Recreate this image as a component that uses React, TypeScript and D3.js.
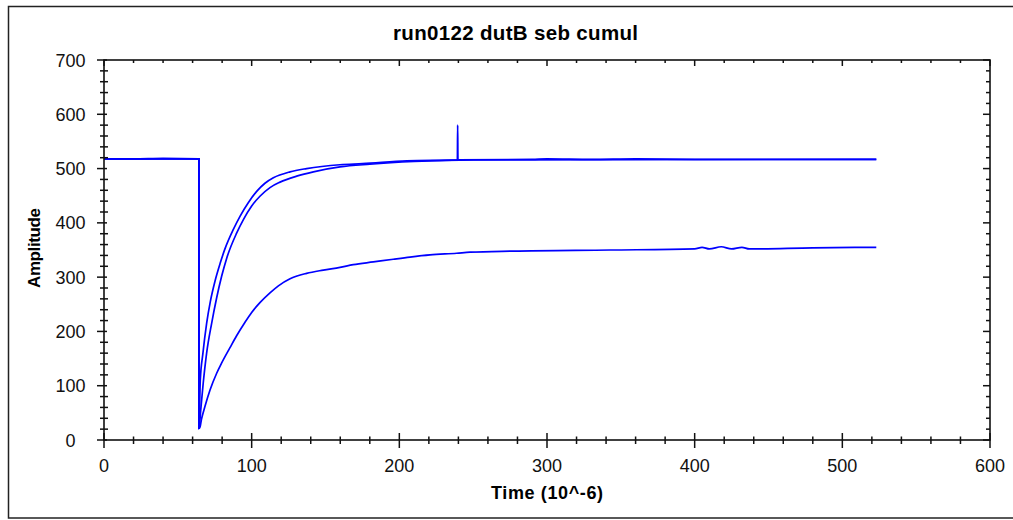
import * as d3 from 'd3';

// readings: [time (10^-6), amplitude]
const fastA: [number, number][] = [
  [0, 518], [20, 518], [40, 519], [64.3, 518], [64.3, 22],
  [65.2, 110], [67, 160], [69.5, 215], [72, 255], [75.2, 293],
  [78.6, 325], [81.9, 352], [87.6, 388], [92.1, 412], [97.7, 437],
  [103.4, 458], [109, 473], [114.7, 483], [126, 494], [137.2, 500],
  [159.8, 507], [175, 509], [205, 514], [239.3, 516], [239.5, 580], [239.7, 516],
  [290, 517], [300, 518], [330, 517], [360, 518], [400, 517], [523, 517],
];

const fastB: [number, number][] = [
  [0, 518], [64.3, 518], [64.3, 21],
  [65.5, 55], [67.2, 105], [69.5, 160], [72.9, 215], [76.3, 262],
  [79.7, 302], [83.1, 335], [89.8, 381], [94.4, 406], [100, 431],
  [105.6, 449], [112.4, 465], [119.2, 475], [130.5, 486], [141.8, 494],
  [159.8, 503], [180, 508], [210, 513], [250, 516], [523, 517],
];

const slowC: [number, number][] = [
  [0, 518], [64.3, 518], [64.3, 22],
  [64.8, 22], [66, 38], [68.4, 62], [71.8, 92], [76.3, 123], [79.7, 142],
  [85.3, 170], [89.8, 192], [95.5, 217], [100, 235], [105.6, 253],
  [112.4, 271], [118.1, 284], [126, 297], [137.2, 307], [148.5, 313],
  [159.8, 318], [168.8, 323], [182.4, 328], [195.9, 333], [207.2, 337],
  [220.8, 341], [238.8, 344], [247.9, 346], [277.2, 348], [342.7, 350],
  [400, 352], [405, 355], [410, 352], [418, 356], [425, 352], [432, 355],
  [437, 352], [480, 354], [523, 355],
];

const xTicks = [0, 100, 200, 300, 400, 500, 600];
const yTicks = [0, 100, 200, 300, 400, 500, 600, 700];
const titleText = 'run0122 dutB seb cumul';

const W = 1013;
const H = 520;
const plot = { left: 104, right: 990, top: 60, bottom: 440 };
const font = '"Liberation Sans", Arial, sans-serif';

export default function App() {
  const x = d3.scaleLinear().domain([0, 600]).range([plot.left, plot.right]);
  const y = d3.scaleLinear().domain([0, 700]).range([plot.bottom, plot.top]);

  const line = d3
    .line<[number, number]>()
    .x(d => x(d[0]))
    .y(d => y(d[1]))
    .curve(d3.curveMonotoneX);

  // minor ticks every 20
  const xMinor = d3.range(0, 601, 20).filter(v => v % 100 !== 0);
  const yMinor = d3.range(0, 701, 20).filter(v => v % 100 !== 0);

  const axisStroke = '#111';

  return (
    <svg
      width={W}
      height={H}
      style={{ position: 'absolute', left: 0, top: 0, background: '#fff' }}
      fontFamily={font}
    >
      <rect x={8.5} y={6.5} width={1020} height={511.5} fill="#fff" stroke="#222" strokeWidth={1.5} />

      <text x={515.5} y={40} textAnchor="middle" fontWeight="bold" fontSize={20.5} textLength={245} lengthAdjust="spacing">
        {titleText}
      </text>

      {/* series */}
      <g fill="none" stroke="#0000ff" strokeWidth={1.7}>
        <path d={line(slowC) ?? ''} />
        <path d={line(fastB) ?? ''} />
        <path d={line(fastA) ?? ''} />
      </g>

      {/* frame of plot */}
      <rect
        x={plot.left}
        y={plot.top}
        width={plot.right - plot.left}
        height={plot.bottom - plot.top}
        fill="none"
        stroke={axisStroke}
        strokeWidth={1.6}
      />

      {/* bottom + top ticks */}
      <g stroke={axisStroke} strokeWidth={1.5}>
        {xTicks.map(t => (
          <g key={'xb' + t}>
            <line x1={x(t)} x2={x(t)} y1={plot.bottom - 7} y2={plot.bottom + 8} />
            <line x1={x(t)} x2={x(t)} y1={plot.top} y2={plot.top + 6} />
          </g>
        ))}
        {xMinor.map(t => (
          <g key={'xm' + t}>
            <line x1={x(t)} x2={x(t)} y1={plot.bottom - 3.5} y2={plot.bottom + 4} />
            <line x1={x(t)} x2={x(t)} y1={plot.top} y2={plot.top + 3} />
          </g>
        ))}
        {yTicks.map(t => (
          <g key={'yb' + t}>
            <line x1={plot.left - 7} x2={plot.left + 3} y1={y(t)} y2={y(t)} />
            <line x1={plot.right - 7} x2={plot.right} y1={y(t)} y2={y(t)} />
          </g>
        ))}
        {yMinor.map(t => (
          <g key={'ym' + t}>
            <line x1={plot.left - 4} x2={plot.left + 4} y1={y(t)} y2={y(t)} />
            <line x1={plot.right - 4} x2={plot.right} y1={y(t)} y2={y(t)} />
          </g>
        ))}
      </g>

      {/* tick labels */}
      <g fontSize={18} fill="#111">
        {xTicks.map(t => (
          <text key={'xl' + t} x={x(t)} y={472} textAnchor="middle">
            {t}
          </text>
        ))}
        {yTicks.map(t => (
          <text key={'yl' + t} x={70.5} y={y(t) + 6.5} textAnchor="middle">
            {t}
          </text>
        ))}
      </g>

      <text x={547} y={499} textAnchor="middle" fontWeight="bold" fontSize={18} textLength={112} lengthAdjust="spacing">
        Time (10^-6)
      </text>
      <text
        transform="translate(39.5,248) rotate(-90)"
        textAnchor="middle"
        fontWeight="bold"
        fontSize={17}
        textLength={80}
        lengthAdjust="spacing"
      >
        Amplitude
      </text>
    </svg>
  );
}
